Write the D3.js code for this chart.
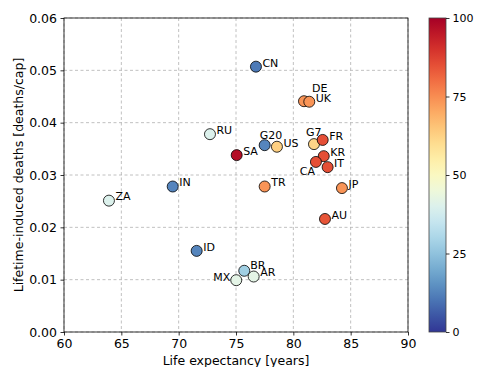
<!DOCTYPE html>
<html>
<head>
<meta charset="utf-8">
<script src="https://cdn.jsdelivr.net/npm/d3@7"></script>
<style>
  body { margin: 0; background: #fff; }
  svg { display: block; font-family: "DejaVu Sans", sans-serif; }
</style>
</head>
<body>
<svg id="chart" width="477" height="367"></svg>
<script>
// countries, life expectancy, lifetime-induced deaths, colour value
var countries = ["CN", "DE", "UK", "RU", "G20", "US", "SA", "G7", "FR", "KR", "CA", "IT", "TR", "JP", "IN", "ZA", "AU", "ID", "BR", "MX", "AR"];
var lifeExp   = [76.74, 80.93, 81.39, 72.73, 77.50, 78.57, 75.06, 81.80, 82.56, 82.65, 81.97, 82.99, 77.50, 84.24, 69.48, 63.92, 82.76, 71.57, 75.72, 75.02, 76.54];
var deaths    = [0.0507, 0.0441, 0.0440, 0.0378, 0.0357, 0.0354, 0.0338, 0.0359, 0.0367, 0.0336, 0.0325, 0.0315, 0.0278, 0.0275, 0.0278, 0.0251, 0.0216, 0.0155, 0.0117, 0.0099, 0.0106];
var colorVal  = [11, 74, 74, 40, 13, 63, 97, 62, 85, 85, 85, 85, 74, 74, 13, 40, 84, 13, 28, 42, 42];

var xTicks = [60, 65, 70, 75, 80, 85, 90];
var yTicks = [0.00, 0.01, 0.02, 0.03, 0.04, 0.05, 0.06];
var cbTicks = [0, 25, 50, 75, 100];

// label placement (dx, dy from the marker, anchor)
var labelPos = {
    DE: [8, -13, "start"],
    G20: [-5, -10, "start"],
    G7: [-8, -12, "start"],
    CA: [-1, 9, "end"],
    MX: [-6, -3, "end"],
    BR: [6, -6, "start"]
};

var svg = d3.select("#chart");
var pLeft = 64, pRight = 408, pTop = 18, pBottom = 332;

var x = d3.scaleLinear().domain([60, 90]).range([pLeft, pRight]);
var y = d3.scaleLinear().domain([0, 0.06]).range([pBottom, pTop]);
var color = d3.scaleSequential(function(t) { return d3.interpolateRdYlBu(1 - t); }).domain([0, 100]);

// grid
var grid = svg.append("g").attr("stroke", "#b0b0b0").attr("stroke-width", 0.8).attr("stroke-dasharray", "3,2.5");
grid.selectAll(".gx").data(xTicks).enter().append("line")
    .attr("x1", function(d) { return x(d); }).attr("x2", function(d) { return x(d); })
    .attr("y1", pTop).attr("y2", pBottom);
grid.selectAll(".gy").data(yTicks).enter().append("line")
    .attr("x1", pLeft).attr("x2", pRight)
    .attr("y1", function(d) { return y(d); }).attr("y2", function(d) { return y(d); });

// axes
var xAxis = svg.append("g")
    .attr("transform", "translate(0," + pBottom + ")")
    .call(d3.axisBottom(x).tickValues(xTicks).tickSize(3.5).tickPadding(4));
var yAxis = svg.append("g")
    .attr("transform", "translate(" + pLeft + ",0)")
    .call(d3.axisLeft(y).tickValues(yTicks).tickFormat(d3.format(".2f")).tickSize(3.5).tickPadding(3.5));
[xAxis, yAxis].forEach(function(a) {
    a.select(".domain").remove();
    a.attr("font-size", 12.5).attr("font-family", "DejaVu Sans");
    a.selectAll("text").attr("fill", "#000");
    a.selectAll("line").attr("stroke", "#000").attr("stroke-width", 0.8);
});

svg.append("rect")
    .attr("x", pLeft).attr("y", pTop)
    .attr("width", pRight - pLeft).attr("height", pBottom - pTop)
    .attr("fill", "none").attr("stroke", "#000").attr("stroke-width", 0.8);

svg.append("text")
    .attr("x", (pLeft + pRight) / 2).attr("y", 365)
    .attr("text-anchor", "middle").attr("font-size", 12.5)
    .text("Life expectancy [years]");
svg.append("text")
    .attr("transform", "translate(23," + ((pTop + pBottom) / 2) + ") rotate(-90)")
    .attr("text-anchor", "middle").attr("font-size", 12.5)
    .text("Lifetime-induced deaths [deaths/cap]");

// points
var pts = countries.map(function(c, i) {
    return { name: c, x: lifeExp[i], y: deaths[i], v: colorVal[i] };
});

svg.append("g").selectAll("circle")
    .data(pts).enter().append("circle")
    .attr("cx", function(d) { return x(d.x); })
    .attr("cy", function(d) { return y(d.y); })
    .attr("r", 5.5)
    .attr("fill", function(d) { return color(d.v); })
    .attr("stroke", "#000").attr("stroke-width", 0.8);

svg.append("g").selectAll("text")
    .data(pts).enter().append("text")
    .attr("x", function(d) { var p = labelPos[d.name]; return x(d.x) + (p ? p[0] : 6.5); })
    .attr("y", function(d) { var p = labelPos[d.name]; return y(d.y) + (p ? p[1] : -4); })
    .attr("dy", "0.35em")
    .attr("text-anchor", function(d) { var p = labelPos[d.name]; return p ? p[2] : "start"; })
    .attr("font-size", 11)
    .text(function(d) { return d.name; });

// colorbar
var cbX = 429, cbW = 17;
var cy = d3.scaleLinear().domain([0, 100]).range([pBottom, pTop]);
var grad = svg.append("defs").append("linearGradient")
    .attr("id", "cbgrad").attr("x1", 0).attr("y1", 1).attr("x2", 0).attr("y2", 0);
d3.range(0, 101, 5).forEach(function(v) {
    grad.append("stop").attr("offset", v + "%").attr("stop-color", color(v));
});
svg.append("rect")
    .attr("x", cbX).attr("y", pTop).attr("width", cbW).attr("height", pBottom - pTop)
    .attr("fill", "url(#cbgrad)").attr("stroke", "#444").attr("stroke-width", 0.8);
var cbAxis = svg.append("g")
    .attr("transform", "translate(" + (cbX + cbW) + ",0)")
    .call(d3.axisRight(cy).tickValues(cbTicks).tickSize(3.5).tickPadding(3));
cbAxis.select(".domain").remove();
cbAxis.attr("font-size", 11).attr("font-family", "DejaVu Sans");
cbAxis.selectAll("text").attr("fill", "#000");
cbAxis.selectAll("line").attr("stroke", "#000").attr("stroke-width", 0.8);
</script>
</body>
</html>
